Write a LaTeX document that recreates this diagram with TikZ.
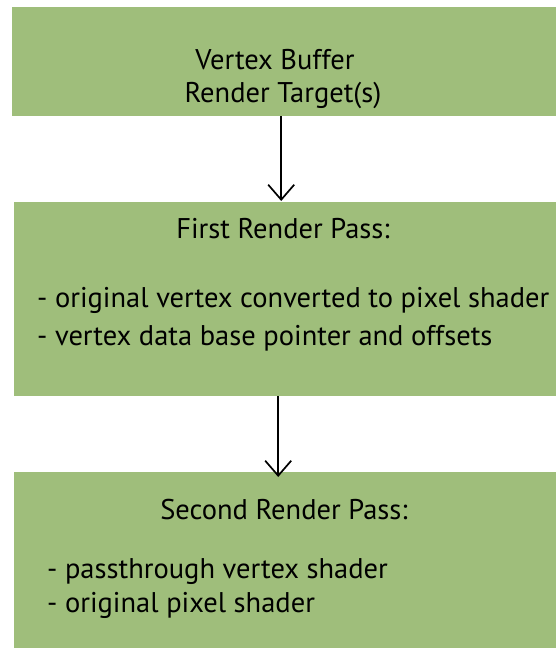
\documentclass[tikz,border=0pt]{standalone}
\usepackage{fontspec}
\setmainfont{PT Sans}
\usetikzlibrary{arrows.meta}
\definecolor{passgreen}{RGB}{159,190,123}
\begin{document}
\begin{tikzpicture}[x=1pt,y=-1pt,
  stage/.style={fill=passgreen, draw=none, inner sep=0pt, anchor=north west},
  boxtext/.style={anchor=base, inner sep=0pt, font=\fontsize{28.5}{32}\selectfont},
  itemtext/.style={boxtext, anchor=base west},
  flow/.style={-{Straight Barb[length=15pt,width=26pt]}, line width=1.7pt}]
\useasboundingbox (0,0) rectangle (556,648);

% the three stages
\node[stage, minimum width=544pt, minimum height=109pt] (buffers) at (12,7) {};
\node[stage, minimum width=542pt, minimum height=194pt] (first) at (14,202) {};
\node[stage, minimum width=542pt, minimum height=176pt] (second) at (14,472) {};

% stage texts
\node[boxtext] (vb) at (275,69) {Vertex Buffer};
\node[boxtext] (rt) at (283,102) {Render Target(s)};

\node[boxtext] (fp) at (283,238) {First Render Pass:};
\node[itemtext] (fp1) at (37,307) {- original vertex converted to pixel shader};
\node[itemtext] (fp2) at (37,345) {- vertex data base pointer and offsets};

\node[boxtext] (sp) at (284,519) {Second Render Pass:};
\node[itemtext] (sp1) at (47,578) {- passthrough vertex shader};
\node[itemtext] (sp2) at (47,612) {- original pixel shader};

% connectors
\draw[flow, shorten >=1pt] ([xshift=-3pt]buffers.south) -- ([xshift=-4pt]first.north);
\draw[flow, shorten >=-5pt] ([xshift=-7pt]first.south) -- ([xshift=-7pt]second.north);
\end{tikzpicture}
\end{document}
